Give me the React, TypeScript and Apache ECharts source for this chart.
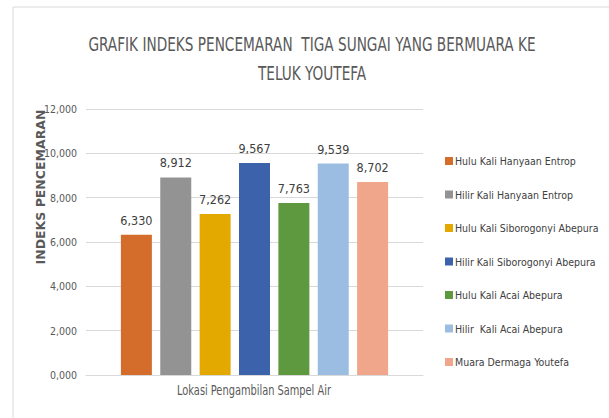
import React, { useEffect, useRef } from "react";
import * as echarts from "echarts";

const titleLines = ["GRAFIK INDEKS PENCEMARAN  TIGA SUNGAI YANG BERMUARA KE", "TELUK YOUTEFA"];
const yAxisTitle = "INDEKS PENCEMARAN";
const xAxisTitle = "Lokasi Pengambilan Sampel Air";
const seriesNames = [
  "Hulu Kali Hanyaan Entrop",
  "Hilir Kali Hanyaan Entrop",
  "Hulu Kali Siborogonyi Abepura",
  "Hilir Kali Siborogonyi Abepura",
  "Hulu Kali Acai Abepura",
  "Hilir  Kali Acai Abepura",
  "Muara Dermaga Youtefa",
];
const seriesValues = [6.33, 8.912, 7.262, 9.567, 7.763, 9.539, 8.702];
const seriesColors = ["#D46D2B", "#939393", "#E3A900", "#3C62AB", "#5F993F", "#9BBDE1", "#F0A68A"];

const FONT = "'DejaVu Sans Condensed', 'Liberation Sans Narrow', sans-serif";
const fmt = (v: number) => v.toFixed(3).replace(".", ",");

export default function App() {
  const ref = useRef<HTMLDivElement>(null);
  useEffect(() => {
    const chart = echarts.init(ref.current!, null, { renderer: "svg" });
    chart.setOption({
      animation: false,
      backgroundColor: "#ffffff",
      textStyle: { fontFamily: FONT },
      graphic: [
        { type: "rect", shape: { x: 13, y: 7, width: 700, height: 500 }, style: { fill: "none", stroke: "#d9d9d9", lineWidth: 1 } },
        { type: "text", x: 312, y: 44, scaleX: 0.76, style: { text: titleLines[0], fontFamily: FONT, fontSize: 20, fill: "#595959", textAlign: "center", textVerticalAlign: "middle" } },
        { type: "text", x: 312, y: 73, scaleX: 0.76, style: { text: titleLines[1], fontFamily: FONT, fontSize: 20, fill: "#595959", textAlign: "center", textVerticalAlign: "middle" } },
        { type: "text", x: 40, y: 187, rotation: Math.PI / 2, style: { text: yAxisTitle, fontFamily: "'DejaVu Sans', sans-serif", fontWeight: "bold", fontSize: 12.5, fill: "#595959", textAlign: "center", textVerticalAlign: "middle" } },
        { type: "text", x: 254, y: 390, scaleX: 0.78, style: { text: xAxisTitle, fontFamily: FONT, fontSize: 14, fill: "#595959", textAlign: "center", textVerticalAlign: "middle" } },
      ],
      legend: {
        orient: "vertical",
        left: 440,
        top: 149,
        itemWidth: 8,
        itemHeight: 8,
        itemGap: 19.5,
        icon: "rect",
        data: seriesNames,
        textStyle: { fontFamily: FONT, fontSize: 10.5, color: "#404040", lineHeight: 14, padding: [0, 0, 0, -3] },
      },
      grid: { left: 86, right: 186, top: 109, bottom: 43, containLabel: false },
      xAxis: {
        type: "category",
        data: [""],
        axisLine: { lineStyle: { color: "#d9d9d9" } },
        axisTick: { show: false },
        axisLabel: { show: false },
      },
      yAxis: {
        type: "value",
        min: 0,
        max: 12,
        interval: 2,
        axisLine: { show: false },
        axisTick: { show: false },
        axisLabel: { formatter: (v: number) => fmt(v), fontFamily: FONT, fontSize: 10.5, color: "#595959", margin: 9 },
        splitLine: { lineStyle: { color: "#d9d9d9" } },
      },
      series: seriesNames.map((name, i) => ({
        name,
        type: "bar",
        data: [seriesValues[i]],
        barWidth: 31,
        barGap: "27%",
        itemStyle: { color: seriesColors[i] },
        label: { show: true, position: "top", distance: 8, formatter: (p: any) => fmt(p.value), fontFamily: FONT, fontSize: 12.5, color: "#404040" },
      })),
    });
    return () => chart.dispose();
  }, []);
  return <div ref={ref} style={{ position: "fixed", left: 0, top: 0, width: 609, height: 418 }} />;
}
